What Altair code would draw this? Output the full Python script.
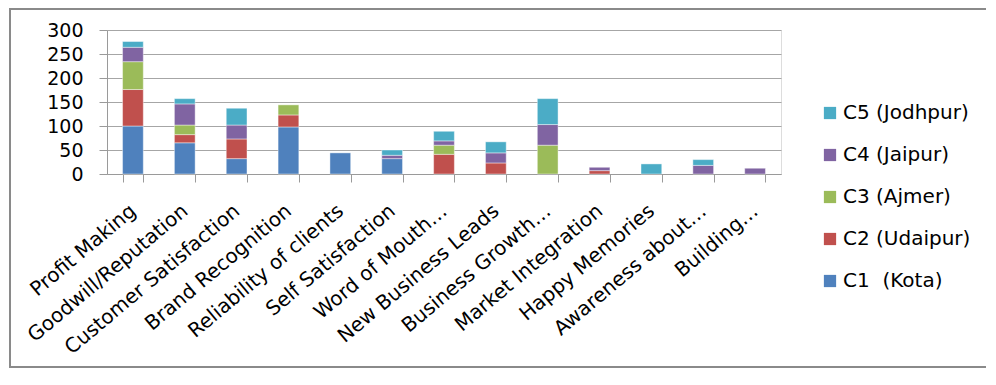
import altair as alt
import pandas as pd

categories = ["Profit Making", "Goodwill/Reputation", "Customer Satisfaction",
              "Brand Recognition", "Reliability of clients", "Self Satisfaction",
              "Word of Mouth…", "New Business Leads", "Business Growth…",
              "Market Integration", "Happy Memories", "Awareness about…", "Building…"]
series_names = ["C1\u00a0 (Kota)", "C2 (Udaipur)", "C3 (Ajmer)", "C4 (Jaipur)", "C5 (Jodhpur)"]
c1 = [100, 65, 32, 98, 44, 32, 0, 0, 0, 0, 0, 0, 0]
c2 = [76, 17, 41, 25, 0, 0, 41, 23, 0, 7, 0, 0, 0]
c3 = [58, 20, 0, 21, 0, 0, 19, 0, 60, 0, 0, 0, 0]
c4 = [30, 44, 29, 0, 0, 7, 9, 21, 43, 7, 0, 18, 12]
c5 = [12, 11, 35, 0, 0, 11, 20, 23, 54, 0, 21, 12, 0]
colors = ["#4F81BD", "#C0504D", "#9BBB59", "#8064A2", "#4BACC6"]

rows = []
for si, (name, vals) in enumerate(zip(series_names, [c1, c2, c3, c4, c5])):
    for cat, v in zip(categories, vals):
        if v > 0:
            rows.append({"category": cat, "series": name, "value": v, "order": si})
df = pd.DataFrame(rows)

FONT = "DejaVu Sans"

bars = alt.Chart(df).mark_bar(stroke="white", strokeWidth=0.6, strokeOpacity=0.7).encode(
    x=alt.X("category:N", sort=categories, title=None,
            scale=alt.Scale(paddingInner=0.6, paddingOuter=0.3),
            axis=alt.Axis(labelAngle=-40, labelAlign="right", labelBaseline="middle",
                          labelFont=FONT, labelFontSize=20, labelColor="black",
                          labelPadding=26, tickBand="extent", tickSize=8,
                          tickColor="#9a9a9a", domainColor="#9a9a9a", labelLimit=400,
                          grid=False)),
    y=alt.Y("value:Q", stack="zero", title=None,
            scale=alt.Scale(domain=[0, 300], nice=False),
            axis=alt.Axis(values=[0, 50, 100, 150, 200, 250, 300], labelFont=FONT,
                          labelFontSize=19, labelColor="black", labelPadding=16,
                          tickSize=8, tickColor="#9a9a9a", domainColor="#9a9a9a",
                          gridColor="#a6a6a6", gridWidth=1.2)),
    color=alt.Color("series:N",
                    scale=alt.Scale(domain=series_names, range=colors),
                    legend=alt.Legend(title=None, orient="none", legendX=713, legendY=73,
                                      values=series_names[::-1], symbolType="square",
                                      symbolSize=150, symbolStrokeWidth=0,
                                      labelFont=FONT, labelFontSize=20, labelColor="black",
                                      rowPadding=22, labelOffset=3, padding=0)),
    order=alt.Order("order:Q"),
)

frame = alt.Chart(pd.DataFrame({"a": [0]})).mark_rect(
    filled=False, stroke="#8a8a8a", strokeWidth=2
).encode(
    x=alt.value(-97), x2=alt.value(1000), y=alt.value(-21), y2=alt.value(337)
)

chart = alt.layer(frame, bars).properties(
    width=674, height=144,
    padding={"left": 99, "top": 22, "right": 205, "bottom": 195},
    autosize=alt.AutoSizeParams(type="none"),
).configure_view(stroke=None).configure(background="white")

chart.save("out.html", embed_options={"renderer": "svg", "actions": False})
